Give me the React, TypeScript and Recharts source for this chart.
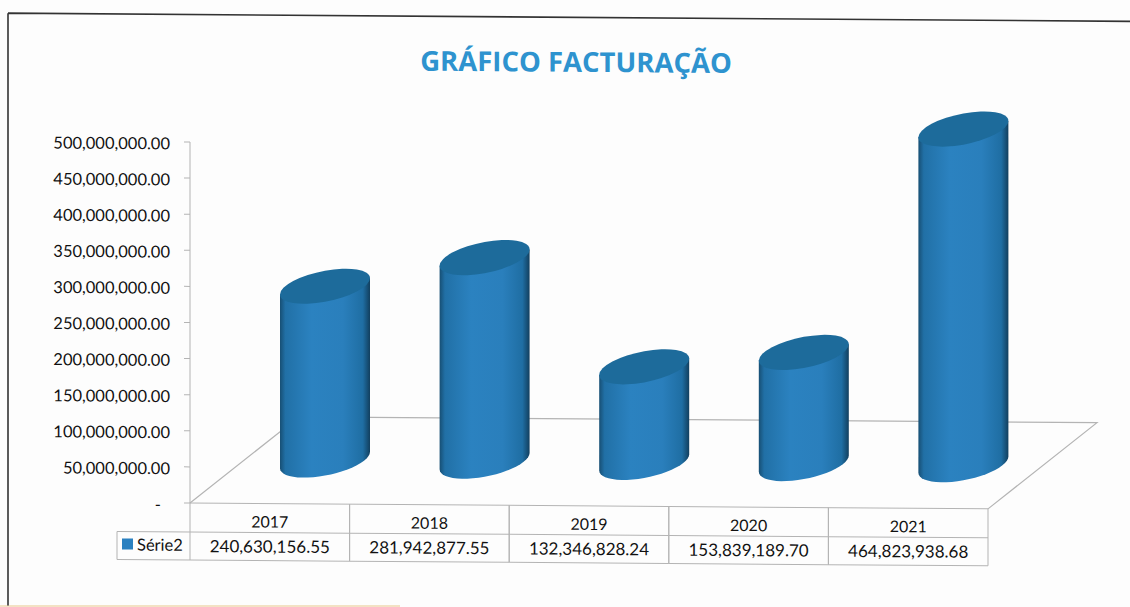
import React from 'react';
import { BarChart, Bar, XAxis, YAxis } from 'recharts';

const years = ['2017', '2018', '2019', '2020', '2021'];
const values = [240630156.55, 281942877.55, 132346828.24, 153839189.7, 464823938.68];
const yTicks = [0, 50000000, 100000000, 150000000, 200000000, 250000000, 300000000, 350000000, 400000000, 450000000, 500000000];
const title = 'GRÁFICO FACTURAÇÃO';
const seriesName = 'Série2';
const data = years.map((year, i) => ({ year, value: values[i] }));

const W = 1130, H = 607;
const FONT = 'Lato, "Open Sans", sans-serif';
const GRID = '#b4b4b4';
const INK = '#111';
const LEFT = 190, BASE = 503, BAND = 159.6;
const DX = 55, DY = -44;
const fmt = (v: number) => v.toLocaleString('en-US', { minimumFractionDigits: 2, maximumFractionDigits: 2 });

function Cylinder(props: any) {
  const { x, y, width, height } = props;
  const rx = width / 2, tilt = 8.5, ry = 15.6;
  const cx = x + rx + DX, top = y + DY, bot = y + height + DY;
  const pts: string[] = [];
  for (let k = 0; k <= 24; k++) {
    const t = (Math.PI * k) / 24;
    pts.push(`${(cx - rx * Math.cos(t)).toFixed(1)} ${(bot + tilt * Math.cos(t) + ry * Math.sin(t)).toFixed(1)}`);
  }
  const body = `M${cx - rx} ${top + tilt} L${pts.join(' L')} L${cx + rx} ${top - tilt} Z`;
  return (
    <g>
      <defs>
        <linearGradient id="cyl" x1="0" y1="0" x2="1" y2="0">
          <stop offset="0" stopColor="#174f74" />
          <stop offset="0.06" stopColor="#2170a6" />
          <stop offset="0.35" stopColor="#2b82c0" />
          <stop offset="0.7" stopColor="#2a7fbc" />
          <stop offset="0.92" stopColor="#1f6ea3" />
          <stop offset="1" stopColor="#123f5e" />
        </linearGradient>
      </defs>
      <path d={body} fill="url(#cyl)" />
      <ellipse cx={0} cy={0} rx={1} ry={1} fill="#1d6b9b" transform={`matrix(${rx},${-tilt},0,${ry},${cx},${top})`} />
    </g>
  );
}

function YTick(props: any) {
  const { y, payload } = props;
  return (
    <g>
      <line x1={LEFT - 6} x2={LEFT} y1={y} y2={y} stroke={GRID} />
      <text x={payload.value === 0 ? 161 : 170} y={y} dy={7.5} textAnchor="end" fontFamily={FONT} fontSize={16.5} fill={INK}>
        {payload.value === 0 ? '-' : fmt(payload.value)}
      </text>
    </g>
  );
}

function TableTick(props: any) {
  const { x, index } = props;
  const left = x - BAND / 2;
  const right = x + BAND / 2;
  const r1 = BASE + 29, r2 = BASE + 57;
  return (
    <g>
      <line x1={left} x2={left} y1={BASE} y2={r2} stroke={GRID} />
      <line x1={right} x2={right} y1={BASE} y2={r2} stroke={GRID} />
      <line x1={left} x2={right} y1={r1} y2={r1} stroke={GRID} />
      <line x1={left} x2={right} y1={r2} y2={r2} stroke={GRID} />
      <text x={x} y={BASE + 24} textAnchor="middle" fontFamily={FONT} fontSize={16} fill={INK}>{years[index]}</text>
      <text x={x} y={BASE + 49} textAnchor="middle" fontFamily={FONT} fontSize={17} fill={INK}>{fmt(values[index])}</text>
      {index === 0 && (
        <g>
          <line x1={117} x2={left} y1={r1} y2={r1} stroke={GRID} />
          <line x1={117} x2={left} y1={r2} y2={r2} stroke={GRID} />
          <line x1={117} x2={117} y1={r1} y2={r2} stroke={GRID} />
          <rect x={122} y={BASE + 36} width={11} height={11} fill="#2a80c0" />
          <text x={137} y={BASE + 48} fontFamily={FONT} fontSize={16.5} fill={INK}>{seriesName}</text>
        </g>
      )}
    </g>
  );
}

export default function App() {
  return (
    <div style={{ position: 'absolute', left: 0, top: 0, width: W, height: H, overflow: 'hidden', background: '#fdfdfd' }}>
      <div style={{ position: 'absolute', left: 0, bottom: 0, width: 400, height: 2, background: '#f3e2c4' }} />
      <div style={{ position: 'absolute', left: 0, top: 0, width: W, height: H, transform: 'skewY(0.42deg)', transformOrigin: `${LEFT}px ${BASE}px` }}>
        <svg width={W} height={H} style={{ position: 'absolute', left: 0, top: 0 }}>
          <path d={`M8 14.5 H${W + 5} M8 14.5 V${H + 5}`} fill="none" stroke="#333" strokeWidth={1.6} />
          <text x={576} y={69} textAnchor="middle" fontFamily='"Open Sans", sans-serif' fontWeight={700} fontSize={27.5} fill="#2e93cf">{title}</text>
          <path d={`M${LEFT} ${BASE} L${LEFT + 109} ${BASE - 87} H${LEFT + 907} L${LEFT + 798} ${BASE}`} fill="none" stroke={GRID} strokeWidth={1.2} />
        </svg>
        <div style={{ position: 'absolute', left: 0, top: 0 }}>
          <BarChart width={W} height={H} data={data} margin={{ top: 142, right: 142, bottom: 44, left: 0 }}>
            <YAxis width={190} domain={[0, 500000000]} ticks={yTicks} interval={0} tick={<YTick />} tickLine={false} axisLine={{ stroke: GRID }} />
            <XAxis dataKey="year" height={60} tick={<TableTick />} tickLine={false} axisLine={{ stroke: GRID }} interval={0} />
            <Bar dataKey="value" barSize={90} isAnimationActive={false} shape={<Cylinder />} />
          </BarChart>
        </div>
      </div>
    </div>
  );
}
